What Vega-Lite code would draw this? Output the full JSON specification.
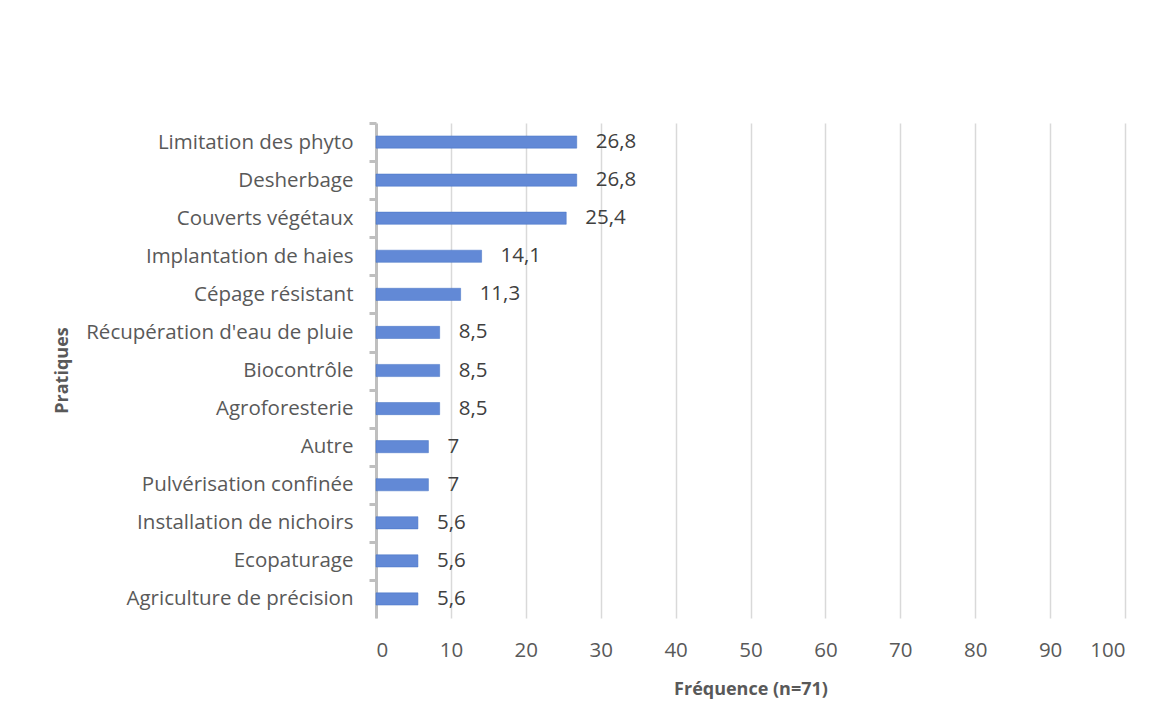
{
  "$schema": "https://vega.github.io/schema/vega-lite/v6.json",
  "autosize": {"type": "none"},
  "width": 749,
  "height": 495,
  "padding": {"left": 376, "top": 123, "right": 35, "bottom": 110},
  "background": "white",
  "config": {
    "view": {"stroke": null},
    "font": "Open Sans",
    "locale": {"number": {"decimal": ",", "thousands": " ", "grouping": [3], "currency": ["", " €"]}}
  },
  "data": {
    "values": [
      {"pratique": "Limitation des phyto", "freq": 26.8},
      {"pratique": "Desherbage", "freq": 26.8},
      {"pratique": "Couverts végétaux", "freq": 25.4},
      {"pratique": "Implantation de haies", "freq": 14.1},
      {"pratique": "Cépage résistant", "freq": 11.3},
      {"pratique": "Récupération d'eau de pluie", "freq": 8.5},
      {"pratique": "Biocontrôle", "freq": 8.5},
      {"pratique": "Agroforesterie", "freq": 8.5},
      {"pratique": "Autre", "freq": 7},
      {"pratique": "Pulvérisation confinée", "freq": 7},
      {"pratique": "Installation de nichoirs", "freq": 5.6},
      {"pratique": "Ecopaturage", "freq": 5.6},
      {"pratique": "Agriculture de précision", "freq": 5.6}
    ]
  },
  "encoding": {
    "y": {
      "field": "pratique",
      "type": "nominal",
      "sort": null,
      "scale": {"paddingInner": 0.68, "paddingOuter": 0.34},
      "axis": {
        "title": "Pratiques",
        "titleFontSize": 18,
        "titleFontWeight": "bold",
        "titleColor": "#595959",
        "titleX": -314,
        "titleY": 247,
        "titleAlign": "center",
        "titleBaseline": "middle",
        "titleAngle": -90,
        "labelFontSize": 20.5,
        "labelColor": "#595959",
        "labelPadding": 16,
        "labelLimit": 400,
        "labelOffset": 19,
        "tickBand": "center",
        "tickOffset": -19,
        "tickSize": 7,
        "tickWidth": 3,
        "tickColor": "#bfbfbf",
        "domainColor": "#bfbfbf",
        "domainWidth": 3,
        "grid": false
      }
    },
    "x": {
      "field": "freq",
      "type": "quantitative",
      "scale": {"domain": [0, 100], "nice": false},
      "axis": {
        "title": "Fréquence (n=71)",
        "titleFontSize": 18,
        "titleFontWeight": "bold",
        "titleColor": "#595959",
        "titlePadding": 20,
        "values": [0, 10, 20, 30, 40, 50, 60, 70, 80, 90, 100],
        "labelFontSize": 20.5,
        "labelColor": "#595959",
        "labelPadding": 22,
        "ticks": false,
        "domain": false,
        "grid": true,
        "gridColor": "#d9d9d9",
        "gridWidth": 1.5
      }
    }
  },
  "layer": [
    {"mark": {"type": "bar", "color": "#6289d6", "stroke": "#4472c4", "strokeWidth": 0.5}},
    {
      "mark": {"type": "text", "align": "left", "dx": 19, "fontSize": 20.5, "color": "#404040", "font": "Open Sans"},
      "encoding": {"text": {"field": "freq", "type": "quantitative", "format": ".3~r"}}
    }
  ]
}
